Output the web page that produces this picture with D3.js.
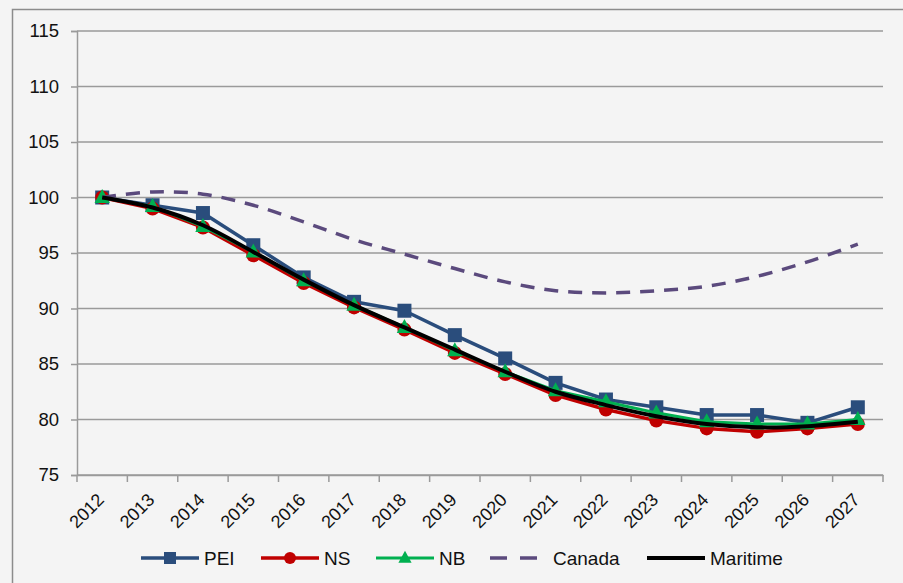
<!DOCTYPE html>
<html><head><meta charset="utf-8">
<script src="https://cdn.jsdelivr.net/npm/d3@7"></script>
<style>html,body{margin:0;padding:0;background:#f4f4f4;}svg{display:block;font-family:"Liberation Sans",Arial,sans-serif;}</style>
</head><body><svg id="c" width="903" height="583"></svg>
<script>
const years = ["2012","2013","2014","2015","2016","2017","2018","2019","2020","2021","2022","2023","2024","2025","2026","2027"];
const yTicks = [75,80,85,90,95,100,105,110,115];
const pei = [100,99.3,98.6,95.7,92.8,90.6,89.8,87.6,85.5,83.3,81.8,81.1,80.4,80.4,79.7,81.1];
const ns = [100,99.0,97.3,94.8,92.3,90.1,88.1,86.0,84.1,82.2,80.9,79.9,79.2,78.9,79.2,79.6];
const nb = [100,99.2,97.4,95.1,92.5,90.3,88.3,86.2,84.3,82.6,81.6,80.6,79.8,79.6,79.6,80.0];
const canada = [100,100.5,100.3,99.3,97.8,96.2,94.9,93.6,92.4,91.6,91.4,91.6,92.0,92.9,94.2,95.8];
const maritime = [100,99.1,97.5,95.1,92.6,90.3,88.3,86.3,84.3,82.5,81.3,80.3,79.6,79.3,79.4,79.8];

const series = [
  {name:"PEI", values:pei, color:"#2a4d7c", width:3.5, marker:"square", curve:d3.curveLinear},
  {name:"NS", values:ns, color:"#c00000", width:3.5, marker:"circle", curve:d3.curveLinear},
  {name:"NB", values:nb, color:"#00b050", width:3, marker:"triangle", curve:d3.curveLinear},
  {name:"Canada", values:canada, color:"#5b4a7d", width:3.5, dash:"14,10", marker:null, curve:d3.curveCatmullRom},
  {name:"Maritime", values:maritime, color:"#000000", width:4, marker:null, curve:d3.curveCatmullRom}
];

const svg = d3.select("#c");
const L=77, R=883, T=31, B=475;
svg.append("rect").attr("x",12.5).attr("y",9.5).attr("width",1000).attr("height",1000)
  .attr("fill","#f4f4f4").attr("stroke","#8c8c8c").attr("stroke-width",1.5);

const x = d3.scaleBand().domain(years).range([L,R]);
const y = d3.scaleLinear().domain([75,115]).range([B,T]);

// gridlines
svg.append("g").selectAll("line").data(yTicks).join("line")
  .attr("x1",L).attr("x2",R).attr("y1",d=>y(d)).attr("y2",d=>y(d))
  .attr("stroke","#9a9a9a").attr("stroke-width",1.5);

// y axis
const ya = svg.append("g").attr("transform",`translate(${L},0)`)
  .call(d3.axisLeft(y).tickValues(yTicks).tickSize(6).tickPadding(12));
ya.select(".domain").attr("stroke","#9a9a9a").attr("stroke-width",1.5);
ya.selectAll(".tick line").attr("stroke","#9a9a9a").attr("stroke-width",1.5);
ya.selectAll("text").attr("font-size",18.5).attr("fill","#111").attr("font-family","Liberation Sans, Arial, sans-serif");

// x axis
const xa = svg.append("g").attr("transform",`translate(0,${B})`)
  .call(d3.axisBottom(x).tickSize(0).tickFormat(""));
xa.select(".domain").attr("stroke","#9a9a9a").attr("stroke-width",1.5);
const bounds = years.map(d=>x(d)).concat([R]);
svg.append("g").selectAll("line").data(bounds).join("line")
  .attr("x1",d=>d).attr("x2",d=>d).attr("y1",B).attr("y2",B+7)
  .attr("stroke","#9a9a9a").attr("stroke-width",1.5);
svg.append("g").selectAll("text").data(years).join("text")
  .attr("transform",d=>`translate(${x(d)+x.bandwidth()/2+3},${B+26}) rotate(-45)`)
  .attr("text-anchor","end").attr("font-size",18).attr("fill","#111")
  .text(d=>d);

const cx = d => x(d)+x.bandwidth()/2;

function drawMarker(g, s, px, py, size){
  if(s.marker==="square"){
    g.append("rect").attr("x",px-size/2).attr("y",py-size/2).attr("width",size).attr("height",size).attr("fill",s.color);
  } else if(s.marker==="circle"){
    g.append("circle").attr("cx",px).attr("cy",py).attr("r",size/2).attr("fill",s.color);
  } else if(s.marker==="triangle"){
    const h=size;
    g.append("path").attr("d",`M${px},${py-h*0.6}L${px+h*0.55},${py+h*0.4}L${px-h*0.55},${py+h*0.4}Z`).attr("fill",s.color);
  }
}

series.forEach(s=>{
  const g = svg.append("g");
  const line = d3.line().x((v,i)=>cx(years[i])).y(v=>y(v)).curve(s.curve);
  g.append("path").attr("d",line(s.values)).attr("fill","none").attr("stroke",s.color)
    .attr("stroke-width",s.width).attr("stroke-dasharray",s.dash||null).attr("stroke-linejoin","round");
  if(s.marker){
    s.values.forEach((v,i)=>drawMarker(g,s,cx(years[i]),y(v),14));
  }
});

// legend
const legX = [141,261,376,490,647];
const legY = 558;
series.forEach((s,i)=>{
  const g = svg.append("g");
  const x0 = legX[i], x1 = x0+58;
  g.append("line").attr("x1",x0).attr("x2",x1).attr("y1",legY).attr("y2",legY)
    .attr("stroke",s.color).attr("stroke-width",s.width).attr("stroke-dasharray",s.dash?"17,13":null);
  if(s.marker) drawMarker(g,s,(x0+x1)/2,legY,12);
  g.append("text").attr("x",x1+5).attr("y",legY).attr("dy","0.35em")
    .attr("font-size",19).attr("fill","#111").text(s.name);
});
</script></body></html>
